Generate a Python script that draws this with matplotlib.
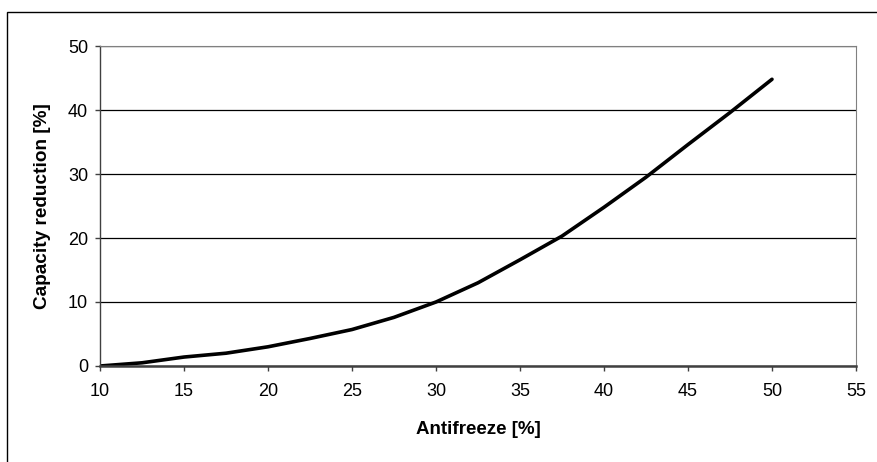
import matplotlib
matplotlib.use("Agg")
import matplotlib.pyplot as plt
from matplotlib.patches import Rectangle

# Antifreeze concentration [%] and capacity reduction [%]
antifreeze = [10, 12.5, 15, 17.5, 20, 22.5, 25, 27.5, 30, 32.5, 35, 37.5, 40, 42.5, 45, 47.5, 50]
reduction = [0, 0.5, 1.4, 2.0, 3.0, 4.3, 5.7, 7.6, 10.0, 13.0, 16.6, 20.3, 24.8, 29.5, 34.6, 39.6, 44.8]

x_ticks = [10, 15, 20, 25, 30, 35, 40, 45, 50, 55]
y_ticks = [0, 10, 20, 30, 40, 50]

plt.rcParams['font.family'] = ['Liberation Sans', 'DejaVu Sans']

W, H = 878, 462
fig = plt.figure(figsize=(W / 100, H / 100), dpi=100)

# plot area in pixels: left 100, right 856, top 46, bottom 366
ax = fig.add_axes([100 / W, 1 - 366 / H, 756 / W, 320 / H])

ax.plot(antifreeze, reduction, color='black', linewidth=2.6, solid_capstyle='round')

ax.set_xlim(10, 55)
ax.set_ylim(0, 50)
ax.set_xticks(x_ticks)
ax.set_yticks(y_ticks)
ax.tick_params(axis='both', labelsize=13, direction='out', length=3.6, color='#404040', width=1)
ax.tick_params(axis='x', pad=9)
ax.tick_params(axis='y', pad=5)

ax.yaxis.grid(True, color='black', linewidth=0.9)
ax.set_axisbelow(True)

ax.spines['left'].set_color('#404040')
ax.spines['bottom'].set_color('#404040')
ax.spines['bottom'].set_linewidth(1.8)
ax.spines['left'].set_linewidth(1.0)
ax.spines['top'].set_color('#808080')
ax.spines['right'].set_color('#808080')

ax.set_xlabel('Antifreeze [%]', fontsize=13.5, fontweight='bold', labelpad=15)
ax.set_ylabel('Capacity reduction [%]', fontsize=13.7, fontweight='bold', labelpad=12)

# outer chart border (only left and top visible in the crop)
fig.patches.append(Rectangle((7 / W, -0.1), 2, 1 - 12 / H + 0.1, transform=fig.transFigure,
                             fill=False, edgecolor='black', linewidth=1.0))

fig.savefig('out.png', dpi=100)
